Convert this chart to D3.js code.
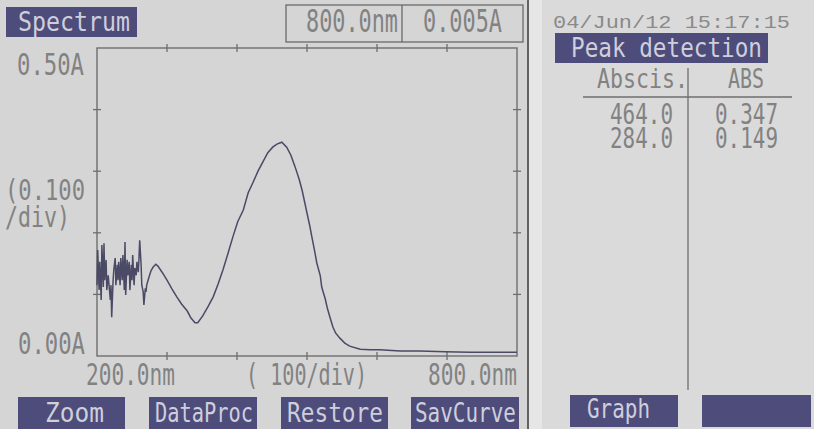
<!DOCTYPE html>
<html>
<head>
<meta charset="utf-8">
<script src="https://cdn.jsdelivr.net/npm/d3@7"></script>
<style>
  body { margin: 0; background: #d7d7d7; }
  svg { display: block; }
</style>
</head>
<body>
<div id="screen"></div>
<script>
const width = 814;
const height = 429;

// spectrum (nm, A)
const wavelength = [200, 201, 203, 204, 206, 207, 209, 210, 211, 213, 214, 216, 219, 220, 221, 223, 224, 226, 227, 229,
    230, 231, 233, 234, 236, 237, 239, 240, 241, 243, 244, 246, 247, 249, 250, 251, 253, 254, 256, 257,
    259, 260, 261, 263, 264, 266, 267, 269, 270, 271, 274, 277, 280, 284, 287, 293, 300, 307, 314, 321,
    329, 334, 340, 344, 351, 359, 366, 373, 380, 387, 394, 401, 409, 416, 423, 430, 437, 444, 451, 457,
    464, 471, 477, 483, 489, 493, 497, 500, 504, 507, 511, 514, 519, 521, 526, 529, 533, 537, 541, 547,
    554, 561, 576, 590, 604, 633, 661, 697, 733, 776, 800];
const absorbance = [0.115, 0.172, 0.107, 0.153, 0.091, 0.180, 0.112, 0.183, 0.123, 0.156, 0.107, 0.131, 0.091, 0.115, 0.063, 0.123, 0.140, 0.159, 0.115, 0.148,
    0.123, 0.153, 0.115, 0.159, 0.123, 0.164, 0.107, 0.185, 0.099, 0.156, 0.131, 0.153, 0.107, 0.148, 0.123, 0.164, 0.115, 0.143, 0.131, 0.153,
    0.136, 0.159, 0.188, 0.148, 0.115, 0.104, 0.083, 0.110, 0.104, 0.115, 0.127, 0.138, 0.144, 0.149, 0.146, 0.136, 0.123, 0.109, 0.096, 0.084,
    0.073, 0.062, 0.054, 0.054, 0.065, 0.081, 0.096, 0.117, 0.140, 0.166, 0.193, 0.218, 0.237, 0.265, 0.282, 0.300, 0.315, 0.330, 0.339, 0.344,
    0.347, 0.339, 0.326, 0.307, 0.286, 0.269, 0.248, 0.232, 0.211, 0.193, 0.170, 0.151, 0.130, 0.112, 0.093, 0.078, 0.062, 0.047, 0.037, 0.029,
    0.021, 0.016, 0.011, 0.010, 0.010, 0.008, 0.008, 0.007, 0.006, 0.006, 0.006];

const xTicks = [300, 400, 500, 600, 700];
const yTicks = [0.1, 0.2, 0.3, 0.4];

const peakAbscissa = ["464.0", "284.0"];
const peakAbs = ["0.347", "0.149"];

const leftButtons = ["Zoom", "DataProc", "Restore", "SavCurve"];
const rightButtons = ["Graph", ""];

const lcd = "DejaVu Sans Mono, monospace";
const ink = "#828282";
const btnFill = "#4d4c7b";
const btnText = "#cfcfdc";

const svg = d3.select('#screen')
    .append("svg")
    .attr('width', width)
    .attr('height', height);

// panels
svg.append("rect").attr("x", 0).attr("y", 0).attr("width", 528).attr("height", height).style("fill", "#d5d5d5");
svg.append("rect").attr("x", 529).attr("y", 0).attr("width", 13).attr("height", height).style("fill", "#e6e6e6");
svg.append("rect").attr("x", 542).attr("y", 0).attr("width", 272).attr("height", height).style("fill", "#dadada");
svg.append("line").attr("x1", 528).attr("x2", 528).attr("y1", 0).attr("y2", height)
    .style("stroke", "#3a3a3a").style("stroke-width", 1.5);

// squeeze text into the box it occupies on screen
function label(str, x0, x1, baseline, size, fill, font) {
    return svg.append("text")
        .attr("x", x0)
        .attr("y", baseline)
        .attr("textLength", x1 - x0)
        .attr("lengthAdjust", "spacingAndGlyphs")
        .style("font-family", font || lcd)
        .style("font-size", size + "px")
        .style("fill", fill || ink)
        .text(str);
}

function button(str, x0, x1, y0, y1, tx0, tx1, baseline, size) {
    svg.append("rect")
        .attr("x", x0).attr("y", y0)
        .attr("width", x1 - x0).attr("height", y1 - y0)
        .style("fill", btnFill);
    if (str) label(str, tx0, tx1, baseline, size, btnText);
}

const x = d3.scaleLinear().domain([200, 800]).range([97, 517]);
const y = d3.scaleLinear().domain([0, 0.5]).range([356, 48]);

// header
button("Spectrum", 6, 137, 7, 37, 18, 130, 31, 26);
svg.append("rect").attr("x", 286).attr("y", 5).attr("width", 237).attr("height", 37)
    .style("fill", "none").style("stroke", "#6a6a6a").style("stroke-width", 1.3);
svg.append("line").attr("x1", 402).attr("x2", 402).attr("y1", 5).attr("y2", 42)
    .style("stroke", "#6a6a6a").style("stroke-width", 1.3);
label("800.0nm", 306, 398, 32, 32);
label("0.005A", 423, 502, 32, 32);

// frame
svg.append("rect")
    .attr("x", x(200)).attr("y", y(0.5))
    .attr("width", x(800) - x(200)).attr("height", y(0) - y(0.5))
    .style("fill", "none").style("stroke", "#6e6e6e").style("stroke-width", 1.4);

const tickGroup = svg.append("g").style("stroke", "#6e6e6e").style("stroke-width", 1.3);
[y(0), y(0.5)].forEach(yy => {
    tickGroup.selectAll(null).data(xTicks).enter().append("line")
        .attr("x1", d => x(d)).attr("x2", d => x(d))
        .attr("y1", yy - 4).attr("y2", yy + 4);
});
[x(200), x(800)].forEach(xx => {
    tickGroup.selectAll(null).data(yTicks).enter().append("line")
        .attr("x1", xx - 4).attr("x2", xx + 4)
        .attr("y1", d => y(d)).attr("y2", d => y(d));
});

// axis labels
label("0.50A", 17, 84, 75, 31);
label("(0.100", 5, 85, 200, 29);
label("/div)", 5, 70, 227, 29);
label("0.00A", 18, 85, 354, 31);
label("200.0nm", 86, 175, 385, 30);
label("( 100/div)", 246, 367, 385, 30);
label("800.0nm", 428, 517, 385, 30);

// curve
const points = wavelength.map((w, i) => [w, absorbance[i]]);
const line = d3.line()
    .x(d => x(d[0]))
    .y(d => y(d[1]));

svg.append("path")
    .datum(points)
    .attr("d", line)
    .style("fill", "none")
    .style("stroke", "#4a4a66")
    .style("stroke-width", 1.5);

// bottom buttons
const btnX = [[18, 125], [149, 257], [281, 388], [411, 519]];
const btnTextX = [[45, 104], [155, 253], [287, 383], [415, 516]];
leftButtons.forEach((b, i) => {
    button(b, btnX[i][0], btnX[i][1], 397, 429, btnTextX[i][0], btnTextX[i][1], 422, 27);
});

// right panel
label("04/Jun/12 15:17:15", 553, 790, 28, 18, "#8a8a8a", "Liberation Mono, monospace");
button("Peak detection", 555, 768, 33, 63, 571, 762, 57, 26);

label("Abscis.", 597, 688, 88, 27);
label("ABS", 728, 764, 88, 27);
svg.append("line").attr("x1", 583).attr("x2", 792).attr("y1", 97).attr("y2", 97)
    .style("stroke", "#6e6e6e").style("stroke-width", 1.3);
svg.append("line").attr("x1", 688).attr("x2", 688).attr("y1", 68).attr("y2", 390)
    .style("stroke", "#6e6e6e").style("stroke-width", 1.3);

peakAbscissa.forEach((p, i) => {
    label(p, 610, 673, 124 + i * 24, 28);
    label(peakAbs[i], 715, 778, 124 + i * 24, 28);
});

const rBtnX = [[570, 678], [702, 811]];
rightButtons.forEach((b, i) => {
    button(b, rBtnX[i][0], rBtnX[i][1], 395, 427, 587, 650, 418, 27);
});
</script>
</body>
</html>
